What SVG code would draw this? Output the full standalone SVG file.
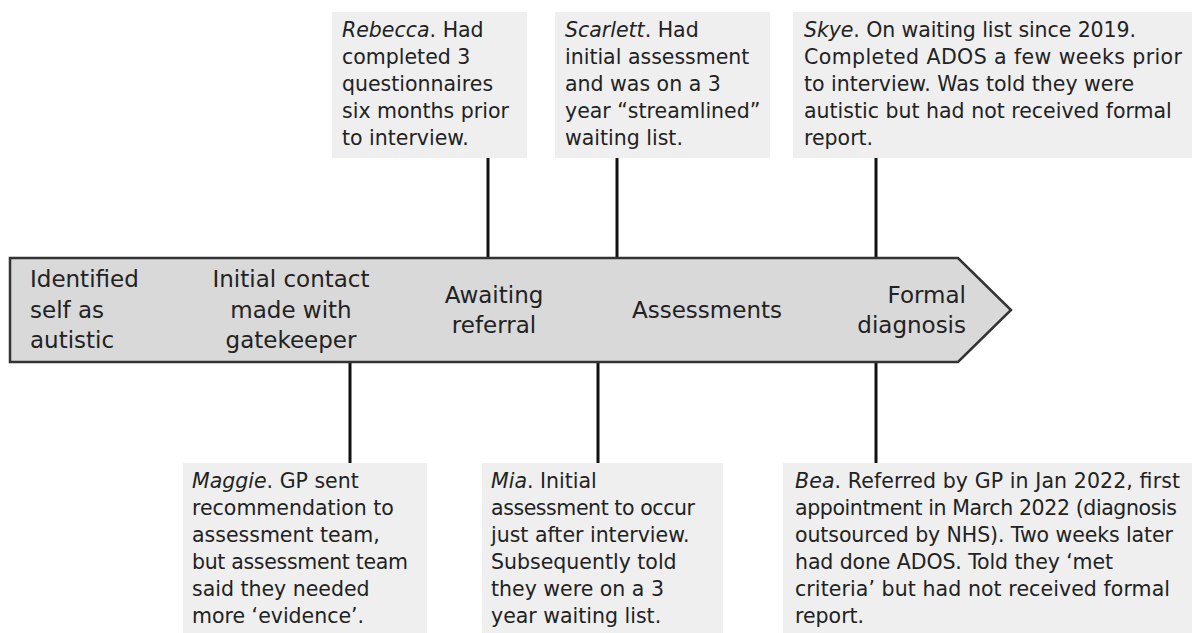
<svg xmlns="http://www.w3.org/2000/svg" width="1192" height="633" viewBox="0 0 1192 633">
<style>
.box{fill:#efefef;stroke:none}
.note{font-family:"DejaVu Sans",sans-serif;font-size:20.5px;fill:#222}
.stage{font-family:"DejaVu Sans",sans-serif;font-size:23px;fill:#222}
.conn{stroke:#111;stroke-width:3;fill:none}
</style>
<rect width="1192" height="633" fill="#fff"/>
<g id="connectors">
<line class="conn" x1="488" y1="158" x2="488" y2="258"/>
<line class="conn" x1="617" y1="158" x2="617" y2="258"/>
<line class="conn" x1="876" y1="158" x2="876" y2="258"/>
<line class="conn" x1="350" y1="362" x2="350" y2="463"/>
<line class="conn" x1="598" y1="362" x2="598" y2="463"/>
<line class="conn" x1="876" y1="362" x2="876" y2="463"/>
</g>
<g id="timeline">
<polygon points="10,258 958,258 1011,310 958,362 10,362" fill="#d9d9d9" stroke="#333" stroke-width="2.5"/>
<text class="stage"><tspan x="30" y="287">Identified</tspan><tspan x="30" y="318">self as</tspan><tspan x="30" y="348">autistic</tspan></text>
<text class="stage" text-anchor="middle"><tspan x="291" y="287">Initial contact</tspan><tspan x="291" y="318">made with</tspan><tspan x="291" y="348">gatekeeper</tspan></text>
<text class="stage" text-anchor="middle"><tspan x="494" y="303">Awaiting</tspan><tspan x="494" y="333">referral</tspan></text>
<text class="stage" text-anchor="middle" x="707" y="318">Assessments</text>
<text class="stage" text-anchor="end"><tspan x="966" y="303">Formal</tspan><tspan x="966" y="333">diagnosis</tspan></text>
</g>
<g id="rebecca">
<rect class="box" x="332" y="12" width="195" height="146"/>
<text class="note"><tspan x="342" y="37"><tspan font-style="italic">Rebecca</tspan>. Had</tspan><tspan x="342" y="64">completed 3</tspan><tspan x="342" y="91">questionnaires</tspan><tspan x="342" y="118">six months prior</tspan><tspan x="342" y="145">to interview.</tspan></text>
</g>
<g id="scarlett">
<rect class="box" x="555" y="12" width="215" height="146"/>
<text class="note"><tspan x="565" y="37"><tspan font-style="italic">Scarlett</tspan>. Had</tspan><tspan x="565" y="64">initial assessment</tspan><tspan x="565" y="91">and was on a 3</tspan><tspan x="565" y="118">year “streamlined”</tspan><tspan x="565" y="145">waiting list.</tspan></text>
</g>
<g id="skye">
<rect class="box" x="793" y="12" width="399" height="146"/>
<text class="note"><tspan x="804" y="37" textLength="332"><tspan font-style="italic">Skye</tspan>. On waiting list since 2019.</tspan><tspan x="804" y="64" textLength="378">Completed ADOS a few weeks prior</tspan><tspan x="804" y="91">to interview. Was told they were</tspan><tspan x="804" y="118">autistic but had not received formal</tspan><tspan x="804" y="145">report.</tspan></text>
</g>
<g id="maggie">
<rect class="box" x="183" y="463" width="244" height="170"/>
<text class="note"><tspan x="192" y="488"><tspan font-style="italic">Maggie</tspan>. GP sent</tspan><tspan x="192" y="515">recommendation to</tspan><tspan x="192" y="542">assessment team,</tspan><tspan x="192" y="569" textLength="216">but assessment team</tspan><tspan x="192" y="596">said they needed</tspan><tspan x="192" y="623">more ‘evidence’.</tspan></text>
</g>
<g id="mia">
<rect class="box" x="482" y="463" width="241" height="170"/>
<text class="note"><tspan x="491" y="488"><tspan font-style="italic">Mia</tspan>. Initial</tspan><tspan x="491" y="515" textLength="204">assessment to occur</tspan><tspan x="491" y="542">just after interview.</tspan><tspan x="491" y="569">Subsequently told</tspan><tspan x="491" y="596">they were on a 3</tspan><tspan x="491" y="623">year waiting list.</tspan></text>
</g>
<g id="bea">
<rect class="box" x="783" y="463" width="409" height="170"/>
<text class="note"><tspan x="795" y="488" textLength="385"><tspan font-style="italic">Bea</tspan>. Referred by GP in Jan 2022, first</tspan><tspan x="795" y="515" textLength="382">appointment in March 2022 (diagnosis</tspan><tspan x="795" y="542" textLength="378">outsourced by NHS). Two weeks later</tspan><tspan x="795" y="569" textLength="318">had done ADOS. Told they ‘met</tspan><tspan x="795" y="596" textLength="375">criteria’ but had not received formal</tspan><tspan x="795" y="623">report.</tspan></text>
</g>
</svg>
